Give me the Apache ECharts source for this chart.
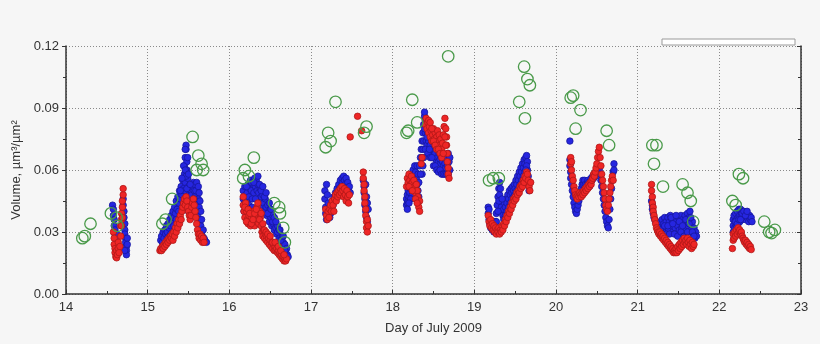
<!DOCTYPE html>
<html><head><meta charset="utf-8">
<script src="https://cdn.jsdelivr.net/npm/echarts@6/dist/echarts.min.js"></script>
<style>html,body{margin:0;padding:0;background:#f6f6f6}#c{width:820px;height:344px}</style>
</head><body><div id="c"></div>
<script>
var xTicks = [14,15,16,17,18,19,20,21,22,23];
var yTicks = [0.00,0.03,0.06,0.09,0.12];
var xTitle = 'Day of July 2009';
var yTitle = 'Volume, µm³/µm²';

var green = [[14.20,0.027],[14.23,0.028],[14.30,0.034],[14.55,0.039],[14.62,0.037],[14.63,0.033],
[15.18,0.034],[15.22,0.036],[15.30,0.046],[15.55,0.076],[15.62,0.067],[15.66,0.063],[15.60,0.060],[15.68,0.060],
[16.30,0.066],[16.19,0.060],[16.24,0.057],[16.17,0.056],[16.55,0.044],[16.61,0.042],[16.62,0.039],[16.66,0.032],[16.68,0.025],
[17.21,0.078],[17.24,0.074],[17.18,0.071],[17.30,0.093],[17.68,0.081],[17.65,0.078],
[18.24,0.094],[18.30,0.083],[18.19,0.079],[18.17,0.078],[18.68,0.115],
[19.61,0.110],[19.65,0.104],[19.68,0.101],[19.55,0.093],[19.62,0.085],[19.18,0.055],[19.23,0.056],[19.30,0.056],
[20.18,0.095],[20.21,0.096],[20.30,0.089],[20.24,0.080],[20.62,0.079],[20.65,0.072],
[21.18,0.072],[21.23,0.072],[21.20,0.063],[21.31,0.052],[21.55,0.053],[21.61,0.049],[21.65,0.045],[21.68,0.035],
[22.24,0.058],[22.29,0.056],[22.16,0.045],[22.20,0.043],[22.55,0.035],[22.61,0.030],[22.68,0.031],[22.64,0.0295]];

var blueDay14 = [[14.57,0.043],[14.58,0.041],[14.58,0.038],[14.59,0.036],[14.59,0.033],[14.60,0.031],[14.60,0.029],[14.61,0.027],[14.62,0.025],[14.62,0.029],[14.63,0.024],[14.64,0.022],[14.70,0.046],[14.70,0.043],[14.71,0.040],[14.71,0.037],[14.72,0.034],[14.72,0.031],[14.72,0.029],[14.73,0.027],[14.73,0.025],[14.74,0.023],[14.74,0.021],[14.74,0.019],[14.75,0.027],[14.75,0.024],[14.72,0.021]];
var redDay14 = [[14.58,0.030],[14.59,0.027],[14.59,0.024],[14.60,0.022],[14.60,0.020],[14.61,0.018],[14.62,0.0175],[14.62,0.021],[14.63,0.019],[14.64,0.022],[14.64,0.025],[14.65,0.020],[14.66,0.023],[14.67,0.028],[14.67,0.033],[14.68,0.036],[14.68,0.039],[14.69,0.042],[14.69,0.045],[14.70,0.048],[14.70,0.051],[14.68,0.033],[14.69,0.037]];

var blueDay15 = [[15.16,0.026],[15.17,0.028],[15.18,0.025],[15.19,0.030],[15.20,0.027],[15.21,0.031],[15.22,0.029],[15.23,0.033],[15.24,0.030],[15.25,0.034],[15.26,0.032],[15.27,0.036],[15.28,0.033],[15.29,0.038],[15.30,0.035],[15.31,0.040],[15.32,0.037],[15.33,0.042],[15.34,0.039],[15.35,0.045],[15.36,0.041],[15.37,0.047],[15.38,0.044],[15.39,0.050],[15.40,0.046],[15.41,0.052],[15.42,0.048],[15.43,0.055],[15.44,0.051],[15.45,0.058],[15.45,0.062],[15.46,0.066],[15.46,0.054],[15.47,0.070],[15.47,0.072],[15.47,0.047],[15.48,0.064],[15.48,0.060],[15.49,0.056],[15.49,0.043],[15.50,0.052],[15.50,0.040],[15.51,0.049],[15.52,0.046],[15.53,0.050],[15.54,0.048],[15.55,0.052],[15.56,0.054],[15.57,0.050],[15.58,0.053],[15.58,0.047],[15.59,0.044],[15.60,0.054],[15.60,0.041],[15.61,0.050],[15.61,0.038],[15.62,0.046],[15.63,0.042],[15.64,0.036],[15.65,0.033],[15.66,0.030],[15.67,0.028],[15.69,0.027],[15.70,0.026],[15.72,0.025],
[15.44,0.062],[15.45,0.050],[15.46,0.060],[15.47,0.057],[15.48,0.051],[15.49,0.066],[15.46,0.070],[15.50,0.058],[15.51,0.044],[15.52,0.053],[15.54,0.044],[15.56,0.040],[15.57,0.046],[15.59,0.050],[15.62,0.052],[15.63,0.049],[15.64,0.045],[15.65,0.040],[15.66,0.036],[15.68,0.031],[15.40,0.050],[15.42,0.056],[15.38,0.040],[15.35,0.036],[15.32,0.033],[15.28,0.029],[15.24,0.027]];
var redDay15 = [[15.15,0.021],[15.16,0.022],[15.17,0.021],[15.18,0.023],[15.19,0.022],[15.20,0.024],[15.21,0.023],[15.22,0.025],[15.23,0.024],[15.24,0.026],[15.25,0.025],[15.26,0.027],[15.27,0.026],[15.28,0.028],[15.29,0.027],[15.30,0.029],[15.31,0.026],[15.32,0.030],[15.33,0.028],[15.34,0.032],[15.35,0.030],[15.36,0.034],[15.37,0.032],[15.38,0.036],[15.39,0.034],[15.40,0.038],[15.41,0.036],[15.42,0.040],[15.43,0.042],[15.44,0.044],[15.45,0.046],[15.46,0.043],[15.47,0.047],[15.48,0.045],[15.49,0.042],[15.50,0.040],[15.51,0.038],[15.52,0.036],[15.53,0.038],[15.54,0.042],[15.55,0.044],[15.56,0.046],[15.57,0.043],[15.58,0.040],[15.59,0.037],[15.60,0.034],[15.61,0.031],[15.62,0.029],[15.63,0.027],[15.64,0.029],[15.65,0.026],[15.66,0.028],[15.67,0.025],[15.68,0.027],[15.69,0.025]];

var blueDay16 = [[16.17,0.050],[16.17,0.046],[16.18,0.043],[16.18,0.040],[16.19,0.052],[16.20,0.048],[16.21,0.045],[16.22,0.049],[16.23,0.053],[16.24,0.047],[16.25,0.051],[16.26,0.055],[16.27,0.050],[16.28,0.046],[16.29,0.053],[16.30,0.049],[16.31,0.056],[16.32,0.052],[16.33,0.055],[16.34,0.050],[16.34,0.046],[16.35,0.053],[16.36,0.049],[16.37,0.045],[16.38,0.051],[16.39,0.047],[16.40,0.043],[16.41,0.048],[16.42,0.044],[16.43,0.040],[16.44,0.046],[16.45,0.042],[16.46,0.038],[16.47,0.043],[16.48,0.039],[16.49,0.035],[16.50,0.041],[16.51,0.037],[16.52,0.033],[16.53,0.038],[16.54,0.034],[16.55,0.031],[16.56,0.036],[16.57,0.032],[16.58,0.029],[16.59,0.033],[16.60,0.030],[16.61,0.027],[16.62,0.031],[16.63,0.028],[16.64,0.025],[16.65,0.028],[16.66,0.025],[16.67,0.022],[16.68,0.024],[16.69,0.021],[16.70,0.022],[16.71,0.019],[16.72,0.018],
[16.19,0.044],[16.21,0.052],[16.24,0.043],[16.27,0.054],[16.28,0.042],[16.30,0.054],[16.32,0.046],[16.35,0.057],[16.37,0.053],[16.39,0.050],[16.41,0.052],[16.43,0.047],[16.45,0.049],[16.47,0.039],[16.49,0.044],[16.51,0.041],[16.53,0.035],[16.55,0.037],[16.57,0.035],[16.59,0.030],[16.61,0.031],[16.63,0.026],[16.66,0.028],[16.68,0.021]];
var redDay16 = [[16.17,0.047],[16.17,0.043],[16.18,0.040],[16.19,0.037],[16.20,0.044],[16.21,0.040],[16.22,0.036],[16.23,0.034],[16.24,0.038],[16.25,0.035],[16.26,0.033],[16.27,0.037],[16.28,0.034],[16.29,0.040],[16.30,0.036],[16.31,0.033],[16.32,0.038],[16.33,0.035],[16.34,0.042],[16.35,0.038],[16.36,0.034],[16.37,0.040],[16.38,0.037],[16.39,0.033],[16.40,0.030],[16.41,0.028],[16.42,0.031],[16.43,0.027],[16.44,0.029],[16.45,0.026],[16.46,0.028],[16.47,0.025],[16.48,0.027],[16.49,0.024],[16.50,0.026],[16.51,0.023],[16.52,0.025],[16.53,0.022],[16.54,0.024],[16.55,0.021],[16.56,0.023],[16.57,0.021],[16.58,0.022],[16.59,0.020],[16.60,0.021],[16.61,0.019],[16.62,0.020],[16.63,0.018],[16.64,0.019],[16.65,0.017],[16.66,0.018],[16.67,0.016],[16.68,0.017],[16.69,0.016],[16.70,0.017],
[16.19,0.042],[16.21,0.035],[16.23,0.041],[16.25,0.039],[16.27,0.034],[16.29,0.036],[16.31,0.039],[16.33,0.041],[16.35,0.044],[16.37,0.036],[16.39,0.039],[16.41,0.034],[16.43,0.031],[16.45,0.030],[16.47,0.029],[16.50,0.028],[16.53,0.025],[16.56,0.025],[16.60,0.023],[16.63,0.021],[16.67,0.019]];

var blueDay17 = [[17.17,0.050],[17.17,0.046],[17.18,0.042],[17.18,0.039],[17.19,0.053],[17.19,0.036],[17.20,0.048],[17.21,0.044],[17.22,0.040],[17.23,0.037],[17.24,0.039],[17.25,0.042],[17.26,0.045],[17.27,0.043],[17.28,0.047],[17.29,0.045],[17.30,0.049],[17.31,0.047],[17.32,0.051],[17.33,0.049],[17.34,0.053],[17.35,0.051],[17.36,0.055],[17.37,0.052],[17.38,0.056],[17.39,0.054],[17.40,0.057],[17.41,0.055],[17.42,0.053],[17.43,0.056],[17.44,0.052],[17.45,0.054],[17.46,0.050],[17.47,0.052],[17.48,0.049],[17.64,0.055],[17.65,0.052],[17.65,0.049],[17.66,0.046],[17.66,0.043],[17.67,0.053],[17.67,0.040],[17.68,0.047],[17.68,0.037],[17.69,0.044],[17.69,0.035],[17.70,0.041]];
var redDay17 = [[17.18,0.041],[17.19,0.038],[17.20,0.036],[17.21,0.040],[17.22,0.037],[17.23,0.041],[17.24,0.043],[17.25,0.040],[17.26,0.045],[17.27,0.043],[17.28,0.040],[17.29,0.046],[17.30,0.048],[17.31,0.045],[17.32,0.049],[17.33,0.047],[17.34,0.050],[17.35,0.048],[17.36,0.051],[17.37,0.049],[17.38,0.052],[17.39,0.050],[17.40,0.047],[17.41,0.051],[17.42,0.048],[17.43,0.045],[17.44,0.050],[17.45,0.047],[17.46,0.044],[17.47,0.048],[17.48,0.076],[17.57,0.086],[17.62,0.079],[17.64,0.059],[17.64,0.056],[17.65,0.053],[17.65,0.050],[17.66,0.047],[17.66,0.044],[17.67,0.041],[17.67,0.038],[17.68,0.035],[17.68,0.032],[17.69,0.030],[17.69,0.036],[17.70,0.033]];

var blueDay18 = [[18.17,0.043],[18.17,0.046],[18.18,0.044],[18.18,0.048],[18.19,0.045],[18.19,0.050],[18.20,0.047],[18.20,0.052],[18.21,0.049],[18.21,0.054],[18.22,0.051],[18.22,0.056],[18.23,0.053],[18.23,0.058],[18.24,0.055],[18.25,0.060],[18.26,0.057],[18.27,0.062],[18.28,0.059],[18.29,0.056],[18.30,0.062],[18.30,0.053],[18.31,0.058],[18.31,0.050],[18.32,0.047],[18.33,0.062],[18.34,0.066],[18.35,0.070],[18.36,0.074],[18.36,0.066],[18.37,0.078],[18.37,0.070],[18.38,0.082],[18.38,0.074],[18.39,0.086],[18.39,0.088],[18.40,0.084],[18.40,0.078],[18.41,0.080],[18.41,0.074],[18.42,0.082],[18.42,0.072],[18.43,0.078],[18.44,0.074],[18.44,0.070],[18.45,0.076],[18.46,0.072],[18.47,0.069],[18.48,0.074],[18.49,0.070],[18.50,0.067],[18.51,0.072],[18.52,0.068],[18.53,0.065],[18.54,0.070],[18.55,0.066],[18.56,0.064],[18.57,0.068],[18.58,0.065],[18.59,0.063],[18.60,0.067],[18.61,0.064],[18.62,0.062],[18.63,0.066],[18.64,0.063],[18.65,0.061],[18.66,0.066],[18.67,0.062],[18.68,0.068],[18.69,0.064],[18.70,0.060],[18.70,0.066],
[18.40,0.070],[18.42,0.076],[18.43,0.068],[18.45,0.070],[18.46,0.066],[18.48,0.066],[18.50,0.062],[18.52,0.062],[18.54,0.060],[18.56,0.059],[18.58,0.060],[18.60,0.058],[18.62,0.058],[18.64,0.058],[18.66,0.058],[18.68,0.058],[18.39,0.080],[18.38,0.066],[18.37,0.062],[18.36,0.058],[18.34,0.058],[18.32,0.054],[18.28,0.052],[18.26,0.050],[18.24,0.048],[18.22,0.046],[18.20,0.044],[18.18,0.041]];
var redDay18 = [[18.17,0.052],[18.18,0.056],[18.19,0.054],[18.20,0.058],[18.21,0.055],[18.22,0.053],[18.23,0.057],[18.24,0.054],[18.25,0.051],[18.26,0.055],[18.27,0.052],[18.28,0.049],[18.29,0.053],[18.30,0.050],[18.31,0.047],[18.31,0.044],[18.32,0.042],[18.33,0.045],[18.35,0.063],[18.36,0.066],[18.40,0.082],[18.41,0.085],[18.42,0.080],[18.43,0.083],[18.44,0.078],[18.45,0.081],[18.46,0.076],[18.47,0.079],[18.48,0.074],[18.49,0.077],[18.50,0.080],[18.51,0.075],[18.52,0.078],[18.53,0.073],[18.54,0.076],[18.55,0.079],[18.56,0.074],[18.57,0.077],[18.58,0.072],[18.59,0.075],[18.60,0.070],[18.61,0.073],[18.62,0.077],[18.63,0.081],[18.64,0.085],[18.65,0.080],[18.66,0.076],[18.66,0.072],[18.67,0.068],[18.67,0.064],[18.68,0.061],[18.68,0.058],[18.69,0.056],
[18.44,0.084],[18.46,0.083],[18.48,0.080],[18.50,0.074],[18.52,0.072],[18.54,0.070],[18.56,0.070],[18.58,0.068],[18.60,0.066],[18.62,0.068],[18.64,0.076],[18.65,0.072],[18.20,0.052],[18.24,0.050],[18.28,0.046],[18.30,0.044],[18.33,0.040]];

var blueDay19 = [[19.17,0.042],[19.17,0.039],[19.18,0.036],[19.18,0.041],[19.19,0.034],[19.20,0.032],[19.21,0.035],[19.22,0.031],[19.23,0.033],[19.24,0.030],[19.25,0.032],[19.26,0.035],[19.27,0.039],[19.28,0.043],[19.29,0.047],[19.30,0.051],[19.31,0.054],[19.31,0.048],[19.32,0.045],[19.33,0.042],[19.34,0.040],[19.35,0.038],[19.36,0.041],[19.37,0.044],[19.38,0.042],[19.39,0.046],[19.40,0.044],[19.41,0.048],[19.42,0.046],[19.43,0.050],[19.44,0.048],[19.45,0.051],[19.46,0.049],[19.47,0.052],[19.48,0.050],[19.49,0.053],[19.50,0.051],[19.51,0.055],[19.52,0.053],[19.53,0.057],[19.54,0.055],[19.55,0.059],[19.56,0.057],[19.57,0.061],[19.58,0.059],[19.59,0.063],[19.60,0.061],[19.61,0.065],[19.62,0.063],[19.63,0.066],[19.64,0.067],[19.65,0.064],[19.65,0.060],[19.66,0.057],[19.66,0.053],[19.67,0.050],[19.68,0.054],
[19.25,0.035],[19.27,0.035],[19.29,0.040],[19.30,0.045],[19.32,0.051],[19.34,0.046],[19.36,0.036],[19.38,0.038],[19.40,0.040],[19.42,0.042],[19.44,0.044],[19.46,0.046],[19.48,0.047],[19.50,0.048],[19.52,0.050],[19.54,0.051],[19.56,0.053],[19.58,0.055],[19.60,0.057],[19.62,0.059],[19.64,0.062],[19.63,0.060]];
var redDay19 = [[19.17,0.038],[19.18,0.035],[19.19,0.033],[19.20,0.036],[19.21,0.032],[19.22,0.034],[19.23,0.031],[19.24,0.033],[19.25,0.030],[19.26,0.032],[19.27,0.029],[19.28,0.031],[19.29,0.030],[19.30,0.032],[19.31,0.029],[19.32,0.031],[19.33,0.030],[19.34,0.033],[19.35,0.031],[19.36,0.034],[19.37,0.033],[19.38,0.036],[19.39,0.035],[19.40,0.038],[19.41,0.037],[19.42,0.040],[19.43,0.039],[19.44,0.042],[19.45,0.041],[19.46,0.044],[19.47,0.043],[19.48,0.046],[19.49,0.045],[19.50,0.047],[19.51,0.046],[19.52,0.049],[19.53,0.048],[19.54,0.050],[19.55,0.049],[19.56,0.052],[19.57,0.051],[19.58,0.053],[19.59,0.052],[19.60,0.055],[19.61,0.054],[19.62,0.057],[19.63,0.056],[19.64,0.059],[19.65,0.058],[19.66,0.055],[19.67,0.052],[19.68,0.050],[19.69,0.054]];

var blueDay20 = [[20.17,0.074],[20.17,0.065],[20.17,0.062],[20.18,0.059],[20.18,0.056],[20.19,0.053],[20.20,0.050],[20.21,0.047],[20.22,0.044],[20.23,0.042],[20.24,0.040],[20.25,0.039],[20.26,0.041],[20.27,0.043],[20.28,0.045],[20.29,0.047],[20.30,0.049],[20.31,0.051],[20.32,0.053],[20.33,0.055],[20.34,0.053],[20.35,0.055],[20.36,0.053],[20.37,0.051],[20.38,0.053],[20.39,0.055],[20.40,0.054],[20.41,0.052],[20.42,0.054],[20.43,0.056],[20.44,0.055],[20.45,0.057],[20.46,0.056],[20.47,0.058],[20.48,0.057],[20.49,0.059],[20.50,0.058],[20.51,0.060],[20.52,0.061],[20.53,0.060],[20.54,0.058],[20.55,0.055],[20.56,0.052],[20.57,0.049],[20.58,0.046],[20.59,0.043],[20.60,0.040],[20.61,0.037],[20.62,0.035],[20.63,0.033],[20.64,0.032],[20.65,0.036],[20.66,0.041],[20.67,0.046],[20.68,0.051],[20.69,0.055],[20.70,0.059],[20.71,0.063],[20.71,0.060]];
var redDay20 = [[20.18,0.066],[20.18,0.063],[20.19,0.064],[20.19,0.060],[20.20,0.057],[20.21,0.055],[20.22,0.052],[20.23,0.050],[20.24,0.048],[20.25,0.047],[20.26,0.046],[20.27,0.048],[20.28,0.047],[20.29,0.049],[20.30,0.048],[20.31,0.047],[20.32,0.049],[20.33,0.048],[20.34,0.050],[20.35,0.049],[20.36,0.051],[20.37,0.050],[20.38,0.052],[20.39,0.051],[20.40,0.053],[20.41,0.052],[20.42,0.054],[20.43,0.053],[20.44,0.055],[20.45,0.056],[20.46,0.058],[20.47,0.057],[20.48,0.059],[20.49,0.061],[20.50,0.063],[20.51,0.066],[20.52,0.069],[20.53,0.071],[20.54,0.066],[20.55,0.062],[20.56,0.058],[20.57,0.055],[20.58,0.052],[20.59,0.049],[20.60,0.046],[20.61,0.043],[20.62,0.041],[20.63,0.040],[20.64,0.043],[20.65,0.046],[20.66,0.049],[20.67,0.052],[20.68,0.055],[20.69,0.057],[20.70,0.055]];

var blueDay21 = [[21.17,0.045],[21.18,0.043],[21.18,0.041],[21.19,0.039],[21.20,0.037],[21.21,0.036],[21.22,0.035],[21.23,0.034],[21.24,0.033],[21.25,0.032],[21.26,0.034],[21.27,0.033],[21.28,0.035],[21.29,0.031],[21.30,0.036],[21.31,0.032],[21.32,0.034],[21.33,0.037],[21.34,0.030],[21.35,0.035],[21.36,0.033],[21.37,0.037],[21.38,0.031],[21.39,0.035],[21.40,0.038],[21.41,0.033],[21.42,0.036],[21.43,0.030],[21.44,0.034],[21.45,0.037],[21.46,0.032],[21.47,0.035],[21.48,0.029],[21.49,0.033],[21.50,0.037],[21.51,0.031],[21.52,0.035],[21.53,0.038],[21.54,0.032],[21.55,0.036],[21.56,0.030],[21.57,0.034],[21.58,0.038],[21.59,0.032],[21.60,0.036],[21.61,0.039],[21.62,0.033],[21.63,0.037],[21.64,0.040],[21.65,0.034],[21.66,0.031],[21.67,0.035],[21.68,0.029],[21.69,0.032],[21.70,0.027],[21.71,0.030],[21.72,0.028],
[21.26,0.030],[21.28,0.031],[21.30,0.029],[21.33,0.033],[21.35,0.029],[21.37,0.033],[21.39,0.029],[21.41,0.037],[21.43,0.034],[21.45,0.029],[21.47,0.038],[21.49,0.028],[21.51,0.035],[21.53,0.030],[21.55,0.033],[21.57,0.028],[21.59,0.036],[21.61,0.030],[21.63,0.034],[21.65,0.037],[21.67,0.030],[21.69,0.028]];
var redDay21 = [[21.17,0.053],[21.17,0.050],[21.18,0.047],[21.18,0.044],[21.19,0.042],[21.19,0.040],[21.20,0.038],[21.21,0.036],[21.22,0.034],[21.23,0.032],[21.24,0.031],[21.25,0.030],[21.26,0.029],[21.27,0.030],[21.28,0.028],[21.29,0.029],[21.30,0.027],[21.31,0.028],[21.32,0.026],[21.33,0.027],[21.34,0.025],[21.35,0.026],[21.36,0.024],[21.37,0.025],[21.38,0.023],[21.39,0.024],[21.40,0.022],[21.41,0.023],[21.42,0.021],[21.43,0.022],[21.44,0.020],[21.45,0.021],[21.46,0.020],[21.47,0.022],[21.48,0.020],[21.49,0.023],[21.50,0.021],[21.51,0.024],[21.52,0.022],[21.53,0.025],[21.54,0.023],[21.55,0.026],[21.56,0.024],[21.57,0.027],[21.58,0.025],[21.59,0.026],[21.60,0.024],[21.61,0.027],[21.62,0.025],[21.63,0.023],[21.64,0.026],[21.65,0.024],[21.66,0.022],[21.67,0.025],[21.68,0.023],[21.69,0.024]];

var blueDay22 = [[22.17,0.036],[22.17,0.033],[22.17,0.030],[22.18,0.027],[22.18,0.038],[22.19,0.035],[22.19,0.032],[22.20,0.029],[22.20,0.039],[22.21,0.036],[22.21,0.033],[22.22,0.040],[22.23,0.037],[22.23,0.034],[22.24,0.041],[22.25,0.038],[22.25,0.035],[22.26,0.041],[22.27,0.038],[22.28,0.036],[22.29,0.040],[22.30,0.037],[22.31,0.039],[22.32,0.036],[22.33,0.039],[22.34,0.037],[22.35,0.038],[22.36,0.035],[22.37,0.038],[22.38,0.036],[22.39,0.037],[22.40,0.035],
[22.20,0.035],[22.22,0.034],[22.24,0.036],[22.26,0.036],[22.28,0.039],[22.30,0.040],[22.32,0.038],[22.34,0.040]];
var redDay22 = [[22.16,0.022],[22.17,0.026],[22.17,0.029],[22.18,0.027],[22.19,0.030],[22.20,0.028],[22.21,0.031],[22.22,0.029],[22.23,0.032],[22.24,0.030],[22.25,0.031],[22.26,0.029],[22.27,0.030],[22.28,0.028],[22.29,0.027],[22.30,0.026],[22.31,0.025],[22.32,0.026],[22.33,0.024],[22.34,0.025],[22.35,0.023],[22.36,0.024],[22.37,0.022],[22.38,0.023],[22.39,0.0215]];

var blue = [].concat(blueDay14, blueDay15, blueDay16, blueDay17, blueDay18, blueDay19, blueDay20, blueDay21, blueDay22);
var red = [].concat(redDay14, redDay15, redDay16, redDay17, redDay18, redDay19, redDay20, redDay21, redDay22);

var chart = echarts.init(document.getElementById('c'), null, {renderer: 'canvas'});
var font = 'Liberation Sans, Arial, sans-serif';
var gridLine = {show: true, lineStyle: {color: '#8a8a8a', type: [1, 2], width: 1}};
chart.setOption({
  animation: false,
  backgroundColor: '#f6f6f6',
  grid: {left: 66, right: 19, top: 46, bottom: 50},
  xAxis: {
    type: 'value', min: xTicks[0], max: xTicks[xTicks.length - 1], interval: 1,
    name: xTitle, nameLocation: 'middle', nameGap: 28,
    nameTextStyle: {fontFamily: font, fontSize: 13, color: '#333'},
    axisLine: {lineStyle: {color: '#333', width: 1.5}},
    axisTick: {show: true, inside: true, length: 4, lineStyle: {color: '#333'}},
    minorTick: {show: true, splitNumber: 2, length: 3, lineStyle: {color: '#333'}},
    axisLabel: {fontFamily: font, fontSize: 13, color: '#333', margin: 7},
    splitLine: gridLine
  },
  yAxis: [{
    type: 'value', min: yTicks[0], max: yTicks[yTicks.length - 1], interval: 0.03,
    name: yTitle, nameLocation: 'middle', nameGap: 39,
    nameTextStyle: {fontFamily: font, fontSize: 13, color: '#333'},
    axisLine: {show: true, lineStyle: {color: '#333', width: 1.5}},
    axisTick: {show: true, length: 4, lineStyle: {color: '#333'}},
    minorTick: {show: true, splitNumber: 2, length: 3, lineStyle: {color: '#333'}},
    axisLabel: {fontFamily: font, fontSize: 13, color: '#333', margin: 7,
      formatter: function (v) { return v.toFixed(2); }},
    splitLine: gridLine
  }, {
    type: 'value', position: 'right', min: yTicks[0], max: yTicks[yTicks.length - 1], interval: 0.03,
    axisLine: {show: true, lineStyle: {color: '#333', width: 1.5}},
    axisTick: {show: true, inside: true, length: 4, lineStyle: {color: '#333'}},
    minorTick: {show: true, splitNumber: 2, length: 3, lineStyle: {color: '#333'}},
    axisLabel: {show: false}, splitLine: {show: false}
  }],
  graphic: [{type: 'rect', shape: {x: 662, y: 39, width: 133, height: 6},
    style: {fill: '#ffffff', stroke: '#9a9a9a', lineWidth: 1}, z: 10}],
  series: [
    {type: 'scatter', data: blue, symbolSize: 6.5,
      itemStyle: {color: '#2626e0', borderColor: '#16169e', borderWidth: 0.8, opacity: 1}},
    {type: 'scatter', data: red, symbolSize: 6.5,
      itemStyle: {color: '#ee2626', borderColor: '#b01818', borderWidth: 0.8, opacity: 1}},
    {type: 'scatter', data: green, symbolSize: 11.5,
      itemStyle: {color: 'rgba(0,0,0,0)', borderColor: '#4a9a4a', borderWidth: 1.3, opacity: 1}}
  ]
});
</script>
</body></html>
